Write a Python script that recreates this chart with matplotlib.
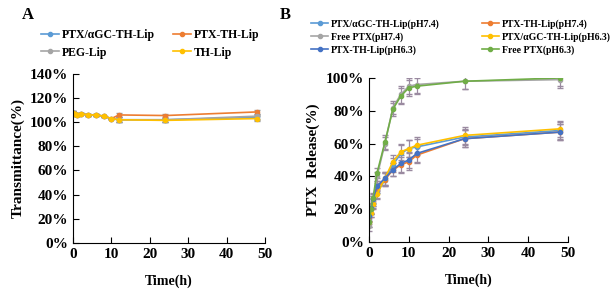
import numpy as np
import matplotlib.pyplot as plt
from matplotlib.lines import Line2D
from matplotlib.ticker import PercentFormatter

plt.rcParams['font.family'] = ['Liberation Serif', 'DejaVu Serif']
plt.rcParams['font.weight'] = 'bold'

# panel A: transmittance
TimeA = [0, 0.5, 1, 2, 4, 6, 8, 10, 12, 24, 48]
NamesA = ["PTX/αGC-TH-Lip", "PTX-TH-Lip", "PEG-Lip", "TH-Lip"]
ColorsA = ["#5b9bd5", "#ed7d31", "#a5a5a5", "#ffc000"]
TransBlue = [108, 107, 106, 107, 106, 106, 105, 103, 102, 102, 104]
TransOrange = [108, 107, 106, 107, 106, 106, 105, 103, 106, 105.5, 108.5]
TransGray = [108, 107, 106, 107, 106, 106, 105, 103, 102, 102, 105]
TransYellow = [108, 107, 106, 107, 106, 106, 105, 103, 102, 101.5, 103]
TransErr = [1, 0.5, 0.5, 0.5, 0.5, 0.5, 0.5, 0.5, 2, 1.5, 2]

# panel B: release
TimeB = [0, 0.5, 1, 2, 4, 6, 8, 10, 12, 24, 48]
NamesB = ["PTX/αGC-TH-Lip(pH7.4)", "PTX-TH-Lip(pH7.4)", "Free PTX(pH7.4)",
          "PTX/αGC-TH-Lip(pH6.3)", "PTX-TH-Lip(pH6.3)", "Free PTX(pH6.3)"]
ColorsB = ["#5b9bd5", "#ed7d31", "#a5a5a5", "#ffc000", "#4472c4", "#70ad47"]
RelAgcPh74 = [14, 20, 24, 30, 38, 47, 54, 57, 58, 64, 68]
RelThPh74 = [15, 20, 25, 33, 38, 44, 47, 49, 53, 63, 67]
RelFreePh74 = [10, 18, 25, 40, 60, 82, 90, 95, 96, 98, 99]
RelAgcPh63 = [12, 18, 23, 29, 39, 49, 55, 57, 59, 65, 69]
RelThPh63 = [16, 21, 26, 34, 39, 44, 48, 50, 54, 63, 67]
RelFreePh63 = [12, 20, 27, 42, 61, 81, 89, 94, 95, 98, 100]
RelErr = [3, 3, 3, 3, 4, 4, 5, 5, 5, 5, 5]


def style_axes(ax):
    ax.spines['top'].set_visible(False)
    ax.spines['right'].set_visible(False)
    ax.tick_params(direction='in', labelsize=11, length=4)
    for lbl in ax.get_xticklabels() + ax.get_yticklabels():
        lbl.set_fontweight('bold')
    ax.set_xlim(0, 50)
    ax.set_xticks(np.arange(0, 51, 10))
    ax.set_xlabel("Time(h)", fontsize=10, fontweight='bold', labelpad=10)
    ax.yaxis.set_major_formatter(PercentFormatter(decimals=0))


def row_major(items, nrows):
    # matplotlib fills legend columns first, reference reads row by row
    return [items[r * 2 + c] for c in range(2) for r in range(nrows)]


def main():
    fig = plt.figure(figsize=(6.11, 2.92), dpi=100)

    AxA = fig.add_axes([0.1195, 0.168, 0.3142, 0.579])
    SeriesA = [TransBlue, TransOrange, TransGray, TransYellow]
    HandlesA = []
    for Name, Color, Values in zip(NamesA, ColorsA, SeriesA):
        AxA.errorbar(TimeA, Values, yerr=TransErr, color=Color, marker='o',
                     markersize=3, linewidth=1.2, ecolor='#999999',
                     elinewidth=0.8, capsize=2)
        HandlesA.append(Line2D([], [], color=Color, marker='o', markersize=3,
                               linewidth=1.2, label=Name))
    AxA.set_ylim(0, 140)
    AxA.set_yticks(np.arange(0, 141, 20))
    AxA.set_ylabel("Transmittance(%)", fontsize=11, fontweight='bold')
    style_axes(AxA)
    fig.legend(handles=row_major(HandlesA, 2), loc='upper center',
               bbox_to_anchor=(0.246, 0.92), ncol=2, frameon=False,
               handlelength=1.5, columnspacing=1.5, handletextpad=0.3,
               labelspacing=0.45, borderpad=0,
               prop={'weight': 'bold', 'size': 8.5})
    fig.text(0.035, 0.935, "A", fontsize=12, fontweight='bold')

    AxB = fig.add_axes([0.604, 0.171, 0.3256, 0.562])
    SeriesB = [RelAgcPh74, RelThPh74, RelFreePh74, RelAgcPh63, RelThPh63, RelFreePh63]
    HandlesB = []
    for Name, Color, Values in zip(NamesB, ColorsB, SeriesB):
        AxB.errorbar(TimeB, Values, yerr=RelErr, color=Color, marker='o',
                     markersize=3, linewidth=1.2, ecolor='#9a8aa0',
                     elinewidth=0.8, capsize=2)
        HandlesB.append(Line2D([], [], color=Color, marker='o', markersize=3,
                               linewidth=1.2, label=Name))
    AxB.set_ylim(0, 100)
    AxB.set_yticks(np.arange(0, 101, 20))
    AxB.set_ylabel("PTX  Release(%)", fontsize=11, fontweight='bold')
    style_axes(AxB)
    fig.legend(handles=row_major(HandlesB, 3), loc='upper center',
               bbox_to_anchor=(0.7545, 0.95), ncol=2, frameon=False,
               handlelength=1.75, columnspacing=4.3, handletextpad=0.3,
               labelspacing=0.35, borderpad=0,
               prop={'weight': 'bold', 'size': 7})
    fig.text(0.458, 0.935, "B", fontsize=12, fontweight='bold')

    fig.savefig("out.png", dpi=100)


if __name__ == "__main__":
    main()
